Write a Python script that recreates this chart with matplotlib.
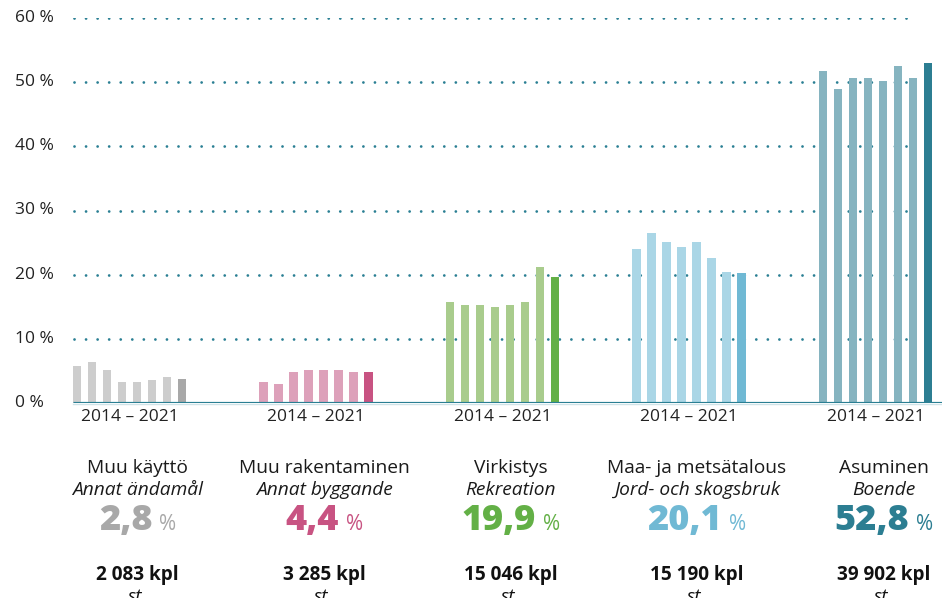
import matplotlib
matplotlib.use("Agg")
import matplotlib.pyplot as plt
from matplotlib.transforms import blended_transform_factory

# ---- data ----
years = ["2014", "2015", "2016", "2017", "2018", "2019", "2020", "2021"]
names_fi = ["Muu käyttö", "Muu rakentaminen", "Virkistys", "Maa- ja metsätalous", "Asuminen"]
names_sv = ["Annat ändamål", "Annat byggande", "Rekreation", "Jord- och skogsbruk", "Boende"]
share_labels = ["2,8", "4,4", "19,9", "20,1", "52,8"]
count_labels = ["2 083 kpl", "3 285 kpl", "15 046 kpl", "15 190 kpl", "39 902 kpl"]
muu_kaytto = [5.7, 6.4, 5.1, 3.3, 3.3, 3.6, 4.0, 3.8]
muu_rakentaminen = [3.2, 3.0, 4.9, 5.2, 5.2, 5.2, 4.8, 4.8]
virkistys = [15.8, 15.3, 15.3, 15.0, 15.3, 15.8, 21.2, 19.7]
maa_metsa = [24.0, 26.5, 25.1, 24.3, 25.1, 22.6, 20.4, 20.2]
asuminen = [51.7, 48.9, 50.6, 50.6, 50.2, 52.5, 50.6, 53.0]
y_ticks = [0, 10, 20, 30, 40, 50, 60]

series = [muu_kaytto, muu_rakentaminen, virkistys, maa_metsa, asuminen]
light_colors = ["#cdcdcd", "#dda1ba", "#a9cc8d", "#aad6e6", "#86b4c0"]
dark_colors = ["#a8a8a8", "#c85382", "#63b046", "#70b9d4", "#2c7e92"]
teal = "#2a7f93"

W, H = 942, 598
fig = plt.figure(figsize=(W / 100, H / 100), dpi=100)
plt.rcParams['font.family'] = ['Open Sans', 'DejaVu Sans']

y0_px, y60_px = 403, 18
ax = fig.add_axes([0, 1 - y0_px / H, 1, (y0_px - y60_px) / H])
ax.set_xlim(0, W)
ax.set_ylim(0, 60)
ax.axis("off")

# gridlines and y labels
for t in y_ticks:
    if t > 0:
        ax.plot([74, 908], [t, t], color=teal, lw=2.0, linestyle=(0, (0.01, 4.15)),
                dash_capstyle="round", zorder=1)
    ax.text(15, t, f"{t} %", ha="left", va="center", fontsize=12.5, color="#222222")

# bars
spacing = 15
group_center0 = 129.5
group_step = 186.5
bar_w = 8.5
for gi, vals in enumerate(series):
    c = group_center0 + gi * group_step
    xs = [c + (i - (len(vals) - 1) / 2) * spacing for i in range(len(vals))]
    cols = [light_colors[gi]] * (len(vals) - 1) + [dark_colors[gi]]
    ax.bar(xs, vals, width=bar_w, color=cols, zorder=2)

# axis baseline
ax.plot([73, W], [0, 0], color=teal, lw=2.3, zorder=3, solid_capstyle="butt")
ax.plot([73, W], [-0.2, -0.2], color="#cfe3e8", lw=1.0, zorder=2, clip_on=False)

tr = blended_transform_factory(ax.transData, fig.transFigure)


def fy(py):
    return 1 - py / H


fig.canvas.draw()
renderer = fig.canvas.get_renderer()

for gi in range(5):
    c = group_center0 + gi * group_step
    ax.text(c, fy(417), f"{years[0]} – {years[-1]}", transform=tr, ha="center", va="center",
            fontsize=12.5, color="#222222")
    tc = c + 8
    ax.text(tc, fy(468), names_fi[gi], transform=tr, ha="center", va="center",
            fontsize=13.8, color="#1a1a1a")
    ax.text(tc, fy(490), names_sv[gi], transform=tr, ha="center", va="center",
            fontsize=13.8, style="italic", color="#1a1a1a")
    num = ax.text(tc, fy(521), share_labels[gi], transform=tr, ha="left", va="center",
                  fontsize=26, fontweight="heavy", color=dark_colors[gi])
    pct = ax.text(tc, fy(524), "%", transform=tr, ha="left", va="center",
                  fontsize=15, color=dark_colors[gi])
    wn = num.get_window_extent(renderer).width
    wp = pct.get_window_extent(renderer).width
    gap = 7
    total = wn + gap + wp
    left_px = ax.transData.transform((tc, 0))[0] - total / 2
    inv = ax.transData.inverted()
    num.set_x(inv.transform((left_px, 0))[0])
    pct.set_x(inv.transform((left_px + wn + gap, 0))[0])
    ax.text(tc, fy(575), count_labels[gi], transform=tr, ha="center", va="center",
            fontsize=13.7, fontweight="bold", color="#111111")
    ax.text(tc, fy(597), "st.", transform=tr, ha="center", va="center",
            fontsize=13.7, style="italic", color="#111111")

fig.savefig("out.png", dpi=100)
